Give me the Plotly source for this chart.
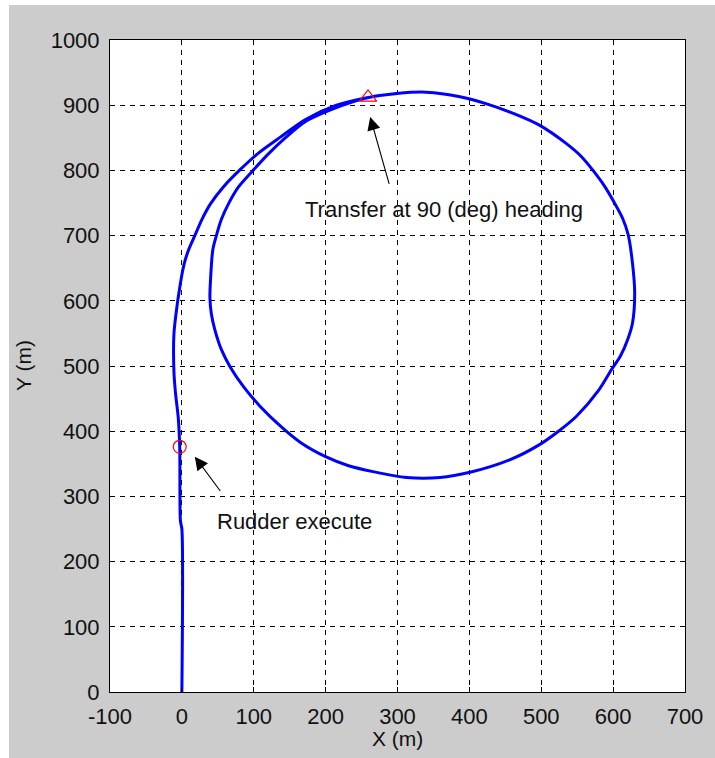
import plotly.graph_objects as go

# Ship trajectory (turning circle)
path_x = [0, 0, -2, -3, -5, -9, -11, -11, -6, -3, 0, 4, 10, 18, 28, 40, 58, 80, 107, 137, 172, 215, 259,
          299, 340, 387, 424, 462, 498, 535, 556, 572, 588, 601, 613, 621, 627, 630, 627, 620, 610, 598, 580, 549,
          524, 497, 456, 401, 359, 313, 266, 232, 200, 166, 138, 109, 86, 67, 55, 46, 41, 39, 40, 43,
          48, 55, 65, 79, 99, 120, 145, 172, 205, 240, 270, 300]
path_y = [0, 250, 262, 376, 420, 460, 490, 550, 598, 620, 640, 660, 680, 700, 725, 749, 775, 800, 827, 851, 878, 900, 912,
          918, 920, 913, 902, 887, 869, 841, 821, 800, 776, 752, 727, 701, 657, 612, 566, 540, 515, 495, 463, 423,
          400, 379, 356, 337, 329, 329, 338, 347, 361, 382, 407, 438, 468, 499, 525, 555, 580, 605, 635, 678,
          700, 725, 749, 775, 800, 825, 851, 875, 892, 906, 914, 918]

rudder_x = [-3]
rudder_y = [376]
transfer_x = [259]
transfer_y = [912]

x_ticks = [-100, 0, 100, 200, 300, 400, 500, 600, 700]
y_ticks = [0, 100, 200, 300, 400, 500, 600, 700, 800, 900, 1000]

W, H = 715, 758
ML, MR, MT, MB = 110, 30, 40, 66
PW, PH = W - ML - MR, H - MT - MB
FONT = "Liberation Sans, Arial, sans-serif"

fig = go.Figure()
fig.add_trace(go.Scatter(x=path_x, y=path_y, mode="lines",
                         line=dict(color="#0000ff", width=3, shape="spline", smoothing=0.8),
                         hoverinfo="skip", showlegend=False))
fig.add_trace(go.Scatter(x=rudder_x, y=rudder_y, mode="markers",
                         marker=dict(symbol="circle-open", size=13, color="#ff0000",
                                     line=dict(width=1.2, color="#ff0000")),
                         showlegend=False))
fig.add_trace(go.Scatter(x=transfer_x, y=transfer_y, mode="markers",
                         marker=dict(symbol="triangle-up-open", size=15, color="#ff0000",
                                     line=dict(width=1.2, color="#ff0000")),
                         showlegend=False))

axis_common = dict(showline=True, linecolor="black", linewidth=1, mirror="ticks",
                   ticks="inside", ticklen=5, tickcolor="black",
                   showgrid=True, gridcolor="black", gridwidth=1, griddash="5px,5px",
                   zeroline=False, tickfont=dict(family=FONT, size=22, color="#111111"))

fig.update_xaxes(range=[-100, 700], tickvals=x_ticks, ticktext=[str(v) for v in x_ticks],
                 ticklabelstandoff=5, **axis_common)
fig.update_yaxes(range=[0, 1000], tickvals=y_ticks, ticktext=[str(v) for v in y_ticks],
                 ticklabelstandoff=5, **axis_common)

annotations = [
    dict(x=18, y=361, ax=55, ay=306, xref="x", yref="y", axref="x", ayref="y",
         text="", showarrow=True, arrowhead=2, arrowsize=2.4, arrowwidth=1.1, arrowcolor="black"),
    dict(x=262, y=882, ax=289, ay=777, xref="x", yref="y", axref="x", ayref="y",
         text="", showarrow=True, arrowhead=2, arrowsize=2.4, arrowwidth=1.1, arrowcolor="black"),
    dict(x=46, y=262, xref="x", yref="y", text="Rudder execute", showarrow=False,
         xanchor="left", yanchor="middle", font=dict(family=FONT, size=22, color="#111111")),
    dict(x=168, y=740, xref="x", yref="y", text="Transfer at 90 (deg) heading", showarrow=False,
         xanchor="left", yanchor="middle", font=dict(family=FONT, size=22, color="#111111")),
    dict(x=0.5, y=-(738 - (H - MB)) / PH, xref="paper", yref="paper", text="X (m)", showarrow=False,
         xanchor="center", yanchor="middle", font=dict(family=FONT, size=21, color="#111111")),
    dict(x=-(ML - 23) / PW, y=0.5, xref="paper", yref="paper", text="Y (m)", showarrow=False,
         textangle=-90, xanchor="center", yanchor="middle",
         font=dict(family=FONT, size=21, color="#111111")),
]

shapes = [
    dict(type="rect", xref="paper", yref="paper", x0=-ML / PW, x1=-(ML - 9) / PW,
         y0=-MB / PH, y1=1 + MT / PH, fillcolor="white", line=dict(width=0), layer="below"),
    dict(type="rect", xref="paper", yref="paper", x0=-ML / PW, x1=1 + MR / PW,
         y0=1 + (MT - 5) / PH, y1=1 + MT / PH, fillcolor="white", line=dict(width=0), layer="below"),
]

fig.update_layout(width=W, height=H, margin=dict(l=ML, r=MR, t=MT, b=MB, autoexpand=False),
                  paper_bgcolor="#cccccc", plot_bgcolor="white",
                  annotations=annotations, shapes=shapes, showlegend=False)

fig.write_html("out.html", config={"displayModeBar": False},
               post_script="document.body.style.margin='0px';document.body.style.padding='0px';")
